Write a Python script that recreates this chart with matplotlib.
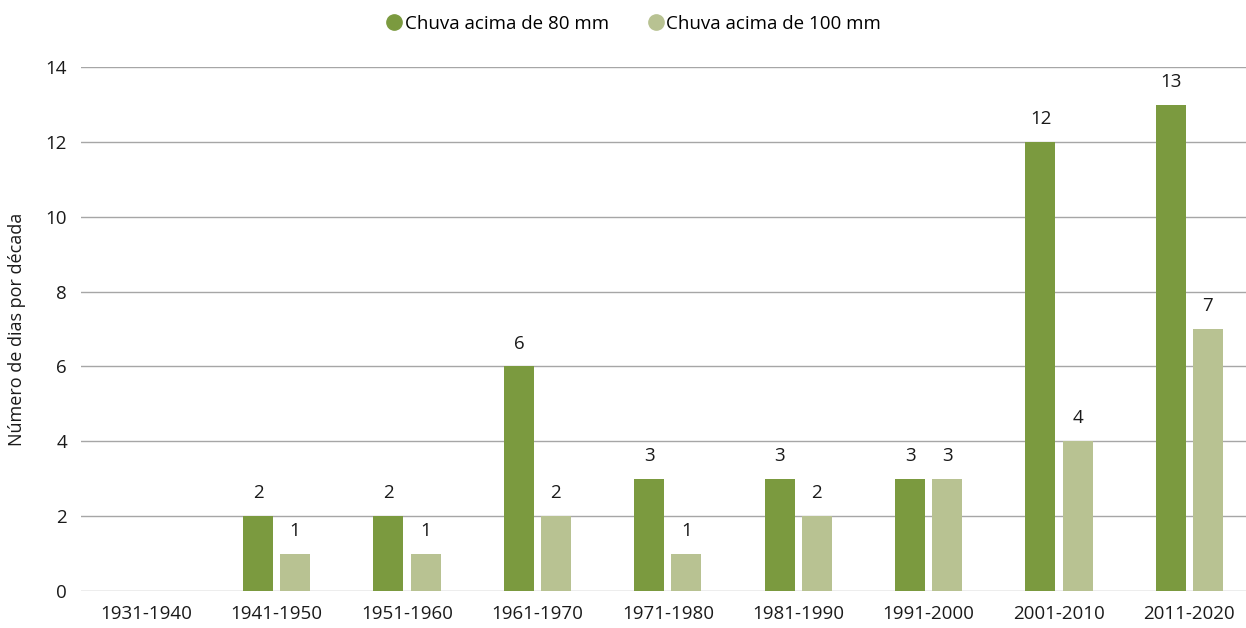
import matplotlib
matplotlib.use('Agg')
import matplotlib.pyplot as plt
from matplotlib.lines import Line2D
import numpy as np

plt.rcParams['font.family'] = ['Open Sans', 'DejaVu Sans']

# Data
decades = ['1931-1940', '1941-1950', '1951-1960', '1961-1970', '1971-1980',
           '1981-1990', '1991-2000', '2001-2010', '2011-2020']
above_80 = [0, 2, 2, 6, 3, 3, 3, 12, 13]
above_100 = [0, 1, 1, 2, 1, 2, 3, 4, 7]
series_names = ['Chuva acima de 80 mm', 'Chuva acima de 100 mm']

GREEN = '#7b9a3f'
LIGHT = '#b8c292'
GRID = '#a6a6a6'
TEXT = '#1a1a1a'
FS = 13.5

fig = plt.figure(figsize=(12.46, 6.28), dpi=100)
ax = fig.add_axes([0.065, 0.059, 0.935, 0.834])

x = np.arange(len(decades))
w = 0.23
off = 0.142
b1 = ax.bar(x - off, above_80, w, color=GREEN, zorder=3)
b2 = ax.bar(x + off, above_100, w, color=LIGHT, zorder=3)

for bars in (b1, b2):
    for rect in bars:
        h = rect.get_height()
        if h > 0:
            ax.annotate(f'{int(h)}', (rect.get_x() + rect.get_width() / 2, h),
                        xytext=(0, 16.5), textcoords='offset points',
                        ha='center', va='center', fontsize=FS, color=TEXT)

ax.set_xlim(-0.5, 8.434)
ax.set_ylim(0, 14)
ax.set_yticks(range(0, 15, 2))
ax.set_xticks(x)
ax.set_xticklabels(decades)
ax.yaxis.grid(True, color=GRID, linewidth=1.0, zorder=0)
ax.set_axisbelow(True)
for s in ax.spines.values():
    s.set_visible(False)
ax.tick_params(axis='both', length=0, labelsize=FS, colors=TEXT)
ax.tick_params(axis='y', pad=10)
ax.tick_params(axis='x', pad=10)
ax.set_ylabel('Número de dias por década', fontsize=13, color=TEXT, labelpad=14)

handles = [Line2D([], [], marker='o', linestyle='', markersize=11, color=GREEN),
           Line2D([], [], marker='o', linestyle='', markersize=11, color=LIGHT)]
fig.legend(handles, series_names, loc='center', bbox_to_anchor=(0.508, 0.962),
           ncol=2, frameon=False, fontsize=FS, handletextpad=0.05,
           columnspacing=2.0, handlelength=1.0)

plt.savefig('out.png', dpi=100, facecolor='white')
plt.close()
